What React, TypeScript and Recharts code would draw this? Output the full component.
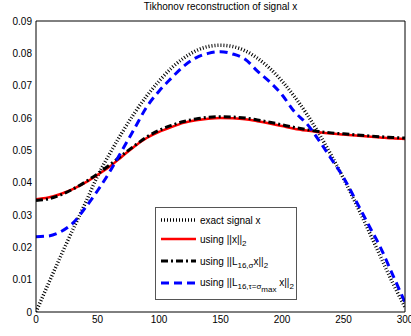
import React from 'react';
import { LineChart, Line, XAxis, YAxis, Legend } from 'recharts';

const xs = [0, 10, 20, 30, 40, 50, 60, 70, 80, 90, 100, 110, 120, 130, 140, 150, 160, 170, 180, 190, 200, 210, 220, 230, 240, 250, 260, 270, 280, 290, 300];
const exact = [0, 0.0087, 0.0172, 0.0255, 0.0336, 0.042, 0.049, 0.0555, 0.0615, 0.0668, 0.0714, 0.0754, 0.0785, 0.0808, 0.0821, 0.0825, 0.0821, 0.0808, 0.0785, 0.0754, 0.0714, 0.0667, 0.0613, 0.0552, 0.0485, 0.0413, 0.0336, 0.0255, 0.0172, 0.009, 0.0015];
const l2 = [0.0349, 0.0354, 0.0365, 0.038, 0.04, 0.0424, 0.045, 0.0481, 0.0512, 0.0538, 0.0557, 0.0572, 0.0585, 0.0593, 0.0598, 0.06, 0.0599, 0.0596, 0.059, 0.0583, 0.0575, 0.0567, 0.0561, 0.0556, 0.0552, 0.0549, 0.0546, 0.0543, 0.054, 0.0537, 0.0535];
const lSigma = [0.0345, 0.035, 0.0362, 0.038, 0.0402, 0.0427, 0.0455, 0.0485, 0.0514, 0.0541, 0.0562, 0.0577, 0.0589, 0.0597, 0.0602, 0.0604, 0.0603, 0.06, 0.0594, 0.0587, 0.0579, 0.0571, 0.0564, 0.0558, 0.0554, 0.0551, 0.0548, 0.0545, 0.0542, 0.054, 0.0538];
const lMax = [0.0233, 0.0235, 0.0248, 0.0275, 0.0322, 0.0375, 0.0434, 0.05, 0.0567, 0.0634, 0.0683, 0.0723, 0.076, 0.0786, 0.08, 0.0805, 0.0798, 0.0782, 0.0745, 0.0712, 0.0672, 0.062, 0.0583, 0.0531, 0.0474, 0.0416, 0.0345, 0.0272, 0.02, 0.0115, 0.003];

const xTicks = [0, 50, 100, 150, 200, 250, 300];
const yTicks = [0, 0.01, 0.02, 0.03, 0.04, 0.05, 0.06, 0.07, 0.08, 0.09];

const data = xs.map((x, i) => ({ x, exact: exact[i], l2: l2[i], lSigma: lSigma[i], lMax: lMax[i] }));

const font = '"Liberation Sans", Arial, sans-serif';
const tickStyle = { fill: '#000', fontSize: 10, fontFamily: font };

const series = [
  { key: 'exact', stroke: '#000', width: 3.5, dash: '1 2' },
  { key: 'l2', stroke: '#ff0000', width: 2.5, dash: undefined },
  { key: 'lSigma', stroke: '#000', width: 3, dash: '7 3 2 3' },
  { key: 'lMax', stroke: '#0000ff', width: 3, dash: '8 5' },
];

const labels: Record<string, React.ReactNode> = {
  exact: <>exact signal x</>,
  l2: <>using ||x||<sub>2</sub></>,
  lSigma: <>using ||L<sub>16,σ</sub>x||<sub>2</sub></>,
  lMax: <>using ||L<sub>16,τ=σ<sub>max</sub></sub> x||<sub>2</sub></>,
};

const subStyle = `.lg sub{font-size:8px;vertical-align:-3px;line-height:0}`;

function LegendBox() {
  return (
    <div className="lg" style={{ width: 142, height: 93, boxSizing: 'border-box', border: '1px solid #555', background: '#fff', fontFamily: font, fontSize: 10, color: '#000', paddingTop: 4 }}>
      <style>{subStyle}</style>
      {series.map((s, i) => (
        <div key={s.key} style={{ display: 'flex', alignItems: 'center', height: i === 0 ? 16 : 22, marginTop: i === 1 ? 0 : 0 }}>
          <svg width={40} height={10} style={{ marginLeft: 4, flex: 'none' }}>
            <line x1={1} y1={5} x2={36} y2={5} stroke={s.stroke} strokeWidth={s.width} strokeDasharray={s.dash} />
          </svg>
          <span style={{ whiteSpace: 'nowrap' }}>{labels[s.key]}</span>
        </div>
      ))}
    </div>
  );
}

export default function App() {
  return (
    <div style={{ position: 'absolute', left: 0, top: 0, width: 411, height: 336, background: '#fff' }}>
      <div style={{ position: 'absolute', left: 36, width: 369, top: 1, textAlign: 'center', fontFamily: font, fontSize: 10, color: '#000' }}>
        Tikhonov reconstruction of signal x
      </div>
      <LineChart width={411} height={336} data={data} margin={{ top: 21, right: 6, bottom: 0, left: 0 }}>
        <XAxis xAxisId="b" dataKey="x" type="number" domain={[0, 300]} ticks={xTicks} allowDataOverflow
          tickLine={false} tickSize={0} tickMargin={4} height={24} axisLine={{ stroke: '#000' }} tick={tickStyle} interval={0} />
        <XAxis xAxisId="bm" dataKey="x" type="number" domain={[0, 300]} ticks={xTicks} allowDataOverflow
          orientation="bottom" mirror tick={false} tickSize={4} tickLine={{ stroke: '#000' }} axisLine={false} />
        <XAxis xAxisId="t" dataKey="x" type="number" domain={[0, 300]} ticks={xTicks} allowDataOverflow
          orientation="top" mirror tick={false} tickSize={4} tickLine={{ stroke: '#000' }} axisLine={{ stroke: '#000' }} />
        <YAxis yAxisId="l" type="number" domain={[0, 0.09]} ticks={yTicks} allowDataOverflow width={36}
          tickLine={false} tickSize={0} tickMargin={4} axisLine={{ stroke: '#000' }} tick={tickStyle} interval={0} />
        <YAxis yAxisId="lm" type="number" domain={[0, 0.09]} ticks={yTicks} allowDataOverflow
          orientation="left" mirror tick={false} tickSize={4} tickLine={{ stroke: '#000' }} axisLine={false} />
        <YAxis yAxisId="r" type="number" domain={[0, 0.09]} ticks={yTicks} allowDataOverflow
          orientation="right" mirror tick={false} tickSize={4} tickLine={{ stroke: '#000' }} axisLine={{ stroke: '#000' }} />
        {series.map((s) => (
          <Line key={s.key} xAxisId="b" yAxisId="l" type="monotone" dataKey={s.key} stroke={s.stroke}
            strokeWidth={s.width} strokeDasharray={s.dash} dot={false} isAnimationActive={false} />
        ))}
        <Legend layout="vertical" align="center" verticalAlign="middle" content={() => <LegendBox />}
          wrapperStyle={{ position: 'absolute', left: 155, top: 207, width: 142, height: 93, bottom: 'auto', right: 'auto' }} />
      </LineChart>
    </div>
  );
}
